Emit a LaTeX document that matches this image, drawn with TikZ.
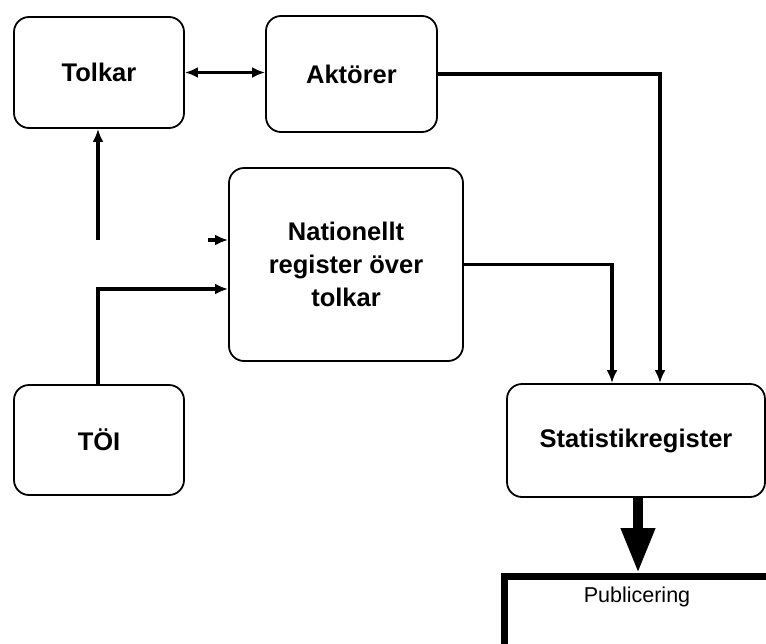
\documentclass[tikz,border=0pt]{standalone}
\usepackage{fontspec}
\setmainfont{Liberation Sans}
\usetikzlibrary{arrows.meta}
\begin{document}
\begin{tikzpicture}[x=1pt,y=-1pt,
  rbox/.style={draw, line width=1.8pt, rounded corners=15pt, font=\bfseries\fontsize{25.5}{33}\selectfont, align=center},
  tip/.style={Latex[length=13pt,width=11pt]},
  conn/.style={line width=3.5pt, -{Latex[length=13pt,width=11pt]}},
  bigarrow/.style={line width=10pt, -{Triangle[length=45pt,width=32pt]}}]
\useasboundingbox (0,0) rectangle (766,643);
\clip (0,0) rectangle (766,643);
\node[rbox, minimum width=170pt, minimum height=111pt] (tolkar) at (99,72.5) {Tolkar};
\node[rbox, minimum width=171pt, minimum height=116pt] (aktorer) at (351.5,74) {Aktörer};
\node[rbox, minimum width=234pt, minimum height=193pt] (nat) at (346,264.5) {Nationellt\\register över\\tolkar};
\node[rbox, minimum width=170pt, minimum height=110pt] (toi) at (99,440) {TÖI};
\node[rbox, minimum width=258pt, minimum height=113pt] (stat) at (636,440.5) {Statistikregister};
\node[draw, line width=7pt, minimum width=268pt, minimum height=110pt, anchor=north] (pub) at (638,573) {};
\node[font=\fontsize{21.5}{24}\selectfont] (publabel) at (637,597) {Publicering};
\coordinate (c1) at (98,240);
\coordinate (c2) at (208,240);
\coordinate (c3) at (98,289);
\draw[line width=3.5pt, {Latex[length=13pt,width=11pt]}-{Latex[length=13pt,width=11pt]}] (tolkar.east) -- (tolkar.east -| aktorer.west);
\draw[conn] (aktorer.east) -| ([xshift=24pt]stat.north);
\draw[conn] (nat.east) -| ([xshift=-24pt]stat.north);
\draw[conn] (c1) -- (c1 |- tolkar.south);
\draw[conn] (c2) -- (c2 -| nat.west);
\draw[conn] (toi.north -| c3) -- (c3) -- (c3 -| nat.west);
\draw[bigarrow] (stat.south -| pub.north) -- (pub.north);
\end{tikzpicture}
\end{document}
